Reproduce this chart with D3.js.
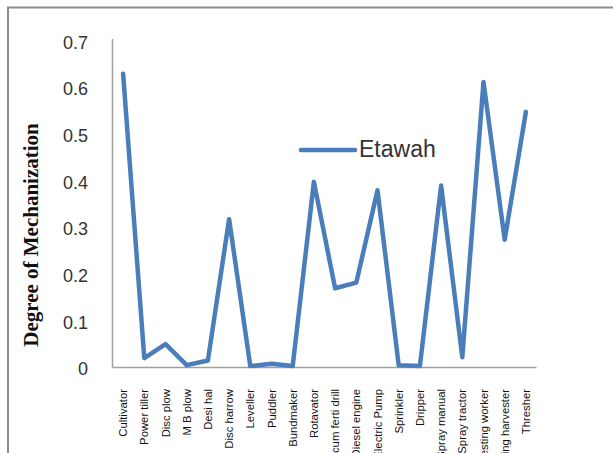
<!DOCTYPE html>
<html><head><meta charset="utf-8">
<script src="https://cdn.jsdelivr.net/npm/d3@7/dist/d3.min.js"></script>
<style>html,body{margin:0;padding:0;background:#fff;overflow:hidden}</style>
</head><body>
<svg id="c" width="613" height="453"></svg>
<script>
const categories = ["Cultivator","Power tiller","Disc plow","M B plow","Desi hal","Disc harrow","Leveller","Puddler","Bundmaker","Rotavator","Seed cum ferti drill","Diesel engine","Electric Pump","Sprinkler","Dripper","Spray manual","Spray tractor","Harvesting worker","Reaping harvester","Thresher"];
const etawah = [0.63,0.02,0.05,0.005,0.015,0.318,0.003,0.008,0.003,0.398,0.17,0.182,0.38,0.005,0.003,0.39,0.022,0.612,0.274,0.548];
const yTicks = [0,0.1,0.2,0.3,0.4,0.5,0.6,0.7];
const seriesName = "Etawah";
const yTitle = "Degree of Mechanization";

(function(){
const svg = d3.select("#c");
// outer chart frame
svg.append("rect").attr("x",8).attr("y",7.5).attr("width",640).attr("height",480)
  .attr("fill","none").attr("stroke","#8c8c8c").attr("stroke-width",2);

const pL=112.5, pR=536.5, pT=41, pB=367.5;
const x = d3.scaleBand().domain(categories).range([pL,pR]);
const y = d3.scaleLinear().domain([0,0.7]).range([pB,pT]);

// axes lines
svg.append("line").attr("x1",pL).attr("x2",pL).attr("y1",pT-2).attr("y2",pB)
  .attr("stroke","#a0a0a0").attr("stroke-width",1.5);
svg.append("line").attr("x1",pL).attr("x2",pR).attr("y1",pB).attr("y2",pB)
  .attr("stroke","#a0a0a0").attr("stroke-width",1.5);

// y tick labels
svg.selectAll(".yt").data(yTicks).enter().append("text")
  .attr("x",88).attr("y",d=>y(d)+1.5).attr("dy","0.35em").attr("text-anchor","end")
  .attr("font-family","Liberation Sans, Arial, sans-serif").attr("font-size",18).attr("fill","#333")
  .text(d=>d===0?"0":d3.format(".1f")(d));

// x category labels
svg.selectAll(".xt").data(categories).enter().append("text")
  .attr("transform",d=>`translate(${x(d)+x.bandwidth()/2+4},389) rotate(-90)`)
  .attr("text-anchor","end")
  .attr("font-family","Liberation Sans, Arial, sans-serif").attr("font-size",11.3).attr("fill","#111")
  .text(d=>d);

// y title
svg.append("text").attr("transform",`translate(38,235) rotate(-90)`).attr("text-anchor","middle")
  .attr("font-family","Liberation Serif, Times New Roman, serif").attr("font-weight","bold")
  .attr("font-size",21).attr("fill","#111").text(yTitle);

// line
const line = d3.line().x((d,i)=>x(categories[i])+x.bandwidth()/2).y(d=>y(d));
svg.append("path").datum(etawah).attr("d",line).attr("fill","none")
  .attr("stroke","#4a7ebb").attr("stroke-width",4.5).attr("stroke-linejoin","round").attr("stroke-linecap","round");

// legend
svg.append("line").attr("x1",301).attr("x2",355).attr("y1",150).attr("y2",150)
  .attr("stroke","#4a7ebb").attr("stroke-width",4.5).attr("stroke-linecap","round");
svg.append("text").attr("x",359).attr("y",157)
  .attr("font-family","Liberation Sans, Arial, sans-serif").attr("font-size",23).attr("fill","#333")
  .text(seriesName);
})();
</script>
</body></html>
